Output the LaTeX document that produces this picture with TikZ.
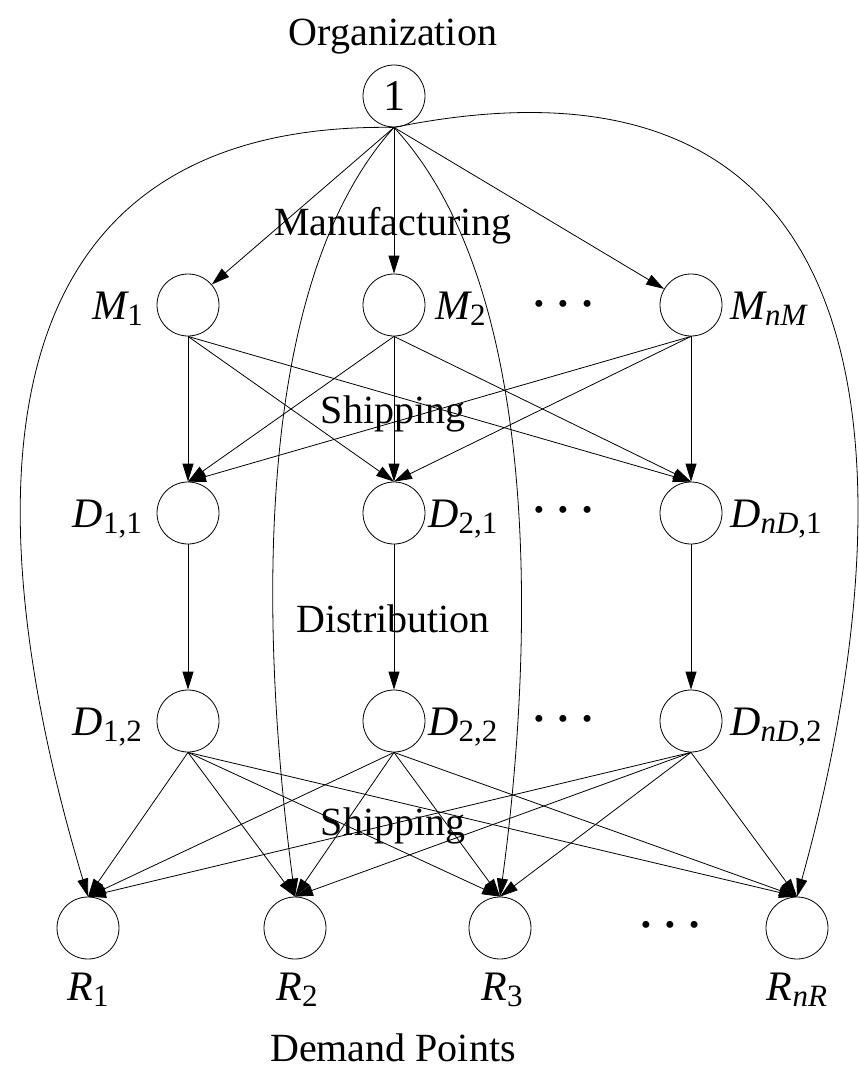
\documentclass[tikz,border=0pt]{standalone}
\usepackage{fontspec}
\setmainfont{Liberation Serif}
\usetikzlibrary{arrows.meta}
\newcommand{\sbs}[1]{\raisebox{-6pt}{\fontsize{31}{36}\selectfont\upshape #1}}
\newcommand{\threedots}{\textbullet\hspace{14pt}\textbullet\hspace{14pt}\textbullet}
\begin{document}
\begin{tikzpicture}[x=1pt,y=-1pt,
  vtx/.style={circle,draw,line width=0.8pt,minimum size=62pt,inner sep=0pt},
  edge/.style={line width=0.8pt,-{Triangle[length=18pt,width=11pt]}},
  title/.style={font=\fontsize{40}{48}\selectfont,anchor=base,inner sep=0pt},
  lbl/.style={font=\fontsize{42}{50}\selectfont\itshape,inner sep=0pt},
  dotsnode/.style={font=\fontsize{29}{32}\selectfont,inner sep=0pt}]
\useasboundingbox (0,0) rectangle (859,1068);

% vertices
\node[vtx] (O) at (394,96) {\fontsize{44}{50}\selectfont 1};
\node[vtx] (M1) at (188,305) {};
\node[vtx] (M2) at (394,305) {};
\node[vtx] (Mn) at (691,305) {};
\node[vtx] (D11) at (188,513) {};
\node[vtx] (D21) at (394,513) {};
\node[vtx] (Dn1) at (691,513) {};
\node[vtx] (D12) at (188,721) {};
\node[vtx] (D22) at (394,721) {};
\node[vtx] (Dn2) at (691,721) {};
\node[vtx] (R1) at (88,928) {};
\node[vtx] (R2) at (295,928) {};
\node[vtx] (R3) at (500,928) {};
\node[vtx] (Rn) at (797,928) {};

% titles
\node[title] (tOrg) at (393,45) {Organization};
\node[title] (tMan) at (393,235) {Manufacturing};
\node[title] (tShipA) at (393,423) {Shipping};
\node[title] (tDist) at (393,632) {Distribution};
\node[title] (tShipB) at (393,835) {Shipping};
\node[title] (tDem) at (393,1061) {Demand Points};

% labels
\node[lbl,anchor=base east] (lM1) at (143,319) {M\sbs{1}};
\node[lbl,anchor=base west] (lM2) at (435,319) {M\sbs{2}};
\node[lbl,anchor=base west] (lMn) at (730,319) {M\sbs{\itshape nM}};
\node[lbl,anchor=base east] (lD11) at (142,527) {D\sbs{1,1}};
\node[lbl,anchor=base west] (lD21) at (428,527) {D\sbs{2,1}};
\node[lbl,anchor=base west] (lDn1) at (730,527) {D\sbs{{\itshape nD},1}};
\node[lbl,anchor=base east] (lD12) at (142,735) {D\sbs{1,2}};
\node[lbl,anchor=base west] (lD22) at (428,735) {D\sbs{2,2}};
\node[lbl,anchor=base west] (lDn2) at (730,735) {D\sbs{{\itshape nD},2}};
\node[lbl,anchor=base] (lR1) at (88,1000) {R\sbs{1}};
\node[lbl,anchor=base] (lR2) at (297,1000) {R\sbs{2}};
\node[lbl,anchor=base] (lR3) at (502,1000) {R\sbs{3}};
\node[lbl,anchor=base] (lRn) at (797,1000) {R\sbs{\itshape nR}};

% dots
\node[dotsnode] (dM) at (563,307) {\threedots};
\node[dotsnode] (dD1) at (563,513) {\threedots};
\node[dotsnode] (dD2) at (563,722) {\threedots};
\node[dotsnode] (dR) at (670,928) {\threedots};

% organization to manufacturing
\foreach \m in {M1,M2,Mn} \draw[edge] (O.south) -- (\m);
% manufacturing to distribution 1
\foreach \m in {M1,M2,Mn} \foreach \d in {D11,D21,Dn1} \draw[edge] (\m.south) -- (\d.north);
% distribution 1 to 2
\draw[edge] (D11) -- (D12);
\draw[edge] (D21) -- (D22);
\draw[edge] (Dn1) -- (Dn2);
% distribution 2 to demand
\foreach \d in {D12,D22,Dn2} \foreach \r in {R1,R2,R3,Rn} \draw[edge] (\d.south) -- (\r.north);
% organization direct to demand
\draw[edge] (O.south) .. controls (-99,120) and (13,647) .. (R1.north);
\draw[edge] (O.south) .. controls (238,300) and (268,692) .. (R2.north);
\draw[edge] (O.south) .. controls (554,300) and (528,692) .. (R3.north);
\draw[edge] (O.south) .. controls (974,10) and (875,617) .. (Rn.north);
\end{tikzpicture}
\end{document}
